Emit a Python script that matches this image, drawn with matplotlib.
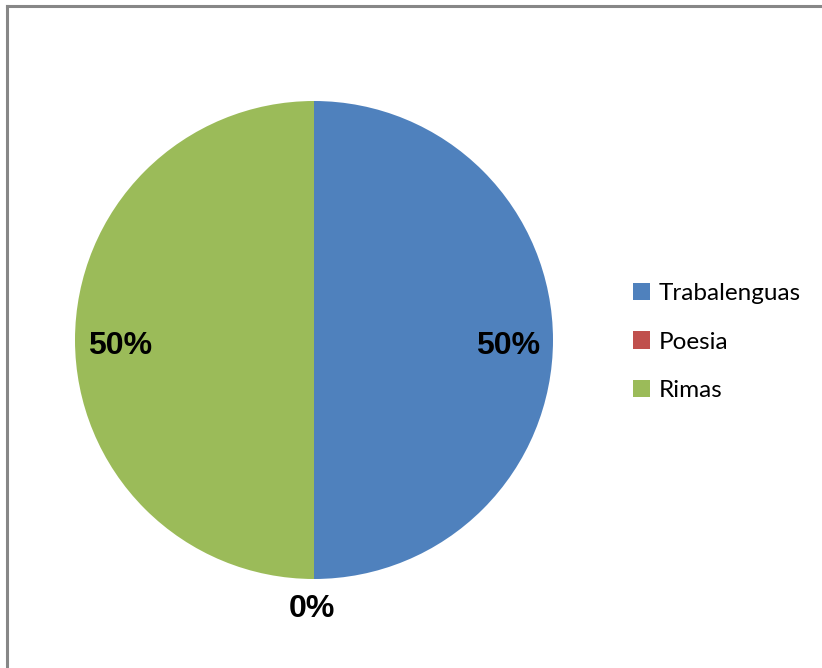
import matplotlib.pyplot as plt
from matplotlib.lines import Line2D
from matplotlib.patches import Patch

# data
categories = ['Trabalenguas', 'Poesia', 'Rimas']
values = [50, 0, 50]
colors = ['#4F81BD', '#C0504D', '#9BBB59']

W, H = 822, 668
fig = plt.figure(figsize=(W / 100, H / 100), dpi=100)

# outer chart frame: only the left and top edges show
x0, y0 = 6.5 / W, 1 - 5.5 / H
fig.lines.append(Line2D([x0, x0], [0, y0], transform=fig.transFigure,
                        color='#878787', linewidth=2.2))
fig.lines.append(Line2D([x0, 1], [y0, y0], transform=fig.transFigure,
                        color='#878787', linewidth=2.2))

# pie: centre (314, 340) px, radius 239 px
cx, cy, r = 314, 340, 239
ax = fig.add_axes([(cx - r) / W, 1 - (cy + r) / H, 2 * r / W, 2 * r / H])
wedges, texts, autotexts = ax.pie(values, colors=colors, startangle=90,
                                  counterclock=False, radius=1,
                                  autopct='%d%%', pctdistance=0.81,
                                  wedgeprops=dict(linewidth=0))
for t, v in zip(autotexts, values):
    t.set_fontsize(23)
    t.set_fontweight('bold')
    t.set_family('Liberation Sans')
    x, y = t.get_position()
    if v == 0:
        t.set_position((-0.01, -1.125))
    else:
        t.set_position((x, y - 0.025))
ax.set_xlim(-1, 1)
ax.set_ylim(-1, 1)
ax.set_aspect('equal')
ax.axis('off')

handles = [Patch(facecolor=c, edgecolor='none') for c in colors]
fig.legend(handles, categories, loc='center left',
           bbox_to_anchor=(611 / W, 1 - 342 / H), frameon=False,
           prop={'family': 'Lato', 'size': 17.5},
           handlelength=0.7, handleheight=0.7, handletextpad=0.35,
           labelspacing=1.12)

fig.savefig('out.png', dpi=100)
